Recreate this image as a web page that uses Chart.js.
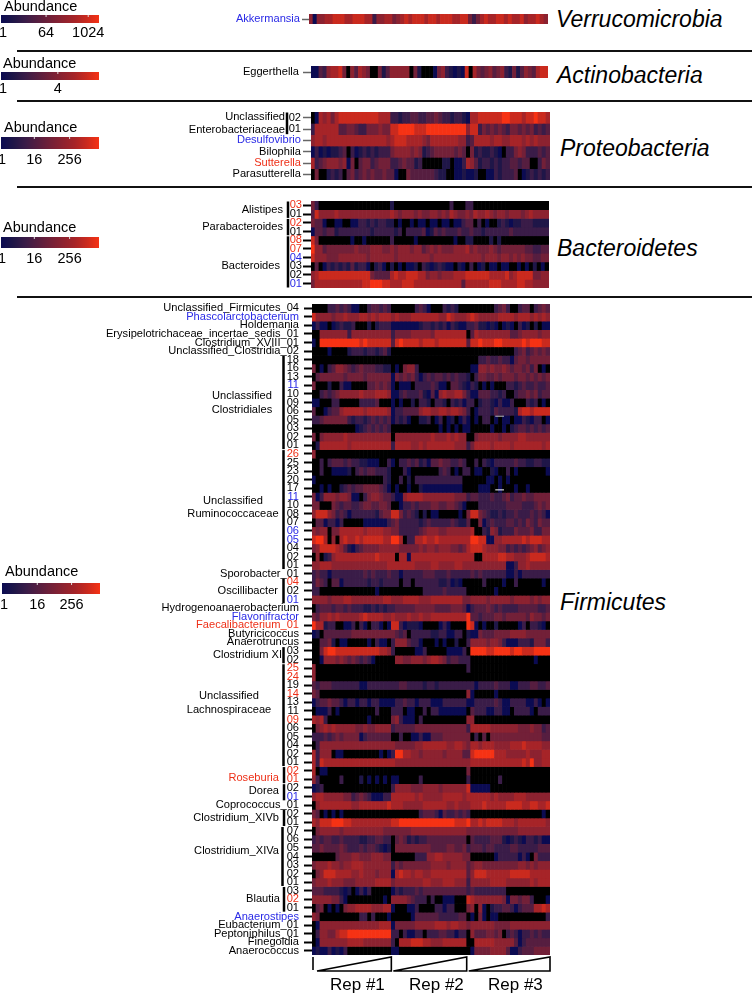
<!DOCTYPE html>
<html>
<head>
<meta charset="utf-8">
<script src="https://cdn.jsdelivr.net/npm/chart.js@4"></script>
<style>
html,body{margin:0;padding:0;background:#fff;width:752px;height:994px;overflow:hidden;font-family:"Liberation Sans",Arial,sans-serif}
canvas{position:absolute;left:0}
.t{position:absolute;white-space:nowrap;line-height:1;color:#000}
.phy{font-style:italic;font-size:23px}
.ab{font-size:14.5px}
.rep{font-size:17px}
.hr{position:absolute;left:17px;right:0;height:2px;background:#111}
</style>
</head>
<body>
<script>
// ---------- DATA: one string per taxon row, one digit per sample (0 = none, 1..9 = abundance class) ----------
const verrucoRows = [
"6166778887 7888773667 7567878887 8878887788 5357877887 8778677876"];
const verrucoLabels = ["Akkermansia"];
const verrucoBlue = [0], verrucoRed = [];

const actinoRows = [
"1143677850 6476500524 6666605200 0156321218 0754564563 2524654788"];
const actinoLabels = ["Eggerthella"];
const actinoBlue = [], actinoRed = [];

const proteoRows = [
"0176757888 8888888777 3323344334 4543323321 7788888899 8887889887",
"3777777445 5433555655 8899998889 9999999996 8835454543 5545453434",
"6776777777 7777777776 7888777765 7777777663 4777767766 7776767666",
"1312122340 3123232333 5666656523 4555554540 5232232103 3565333434",
"7345666561 5045534555 3345442300 0002201137 6423323233 4434400354",
"0500232304 5345454454 4100544444 4322001121 1200113233 3401232323"];
const proteoLabels = ["02","01","Desulfovibrio","Bilophila","Sutterella","Parasutterella"];
const proteoBlue = [2], proteoRed = [4];

const bacteroRows = [
"5300000000 0000000000 2000000000 0000030003 3000000000 0000000000",
"4866667666 6666666666 7656665655 6656576556 5766765665 6665676666",
"5441001100 1133232332 2010010110 1101101134 4030100232 1223332222",
"1443442333 3333323333 3230333341 2434333433 4332333333 4333333333",
"8500000000 1001000000 3000001000 0000001002 2000020200 0000000000",
"9664555555 5655566655 6566656645 6565556667 5655565455 5555443344",
"8666555666 6666566666 6566666666 5666666666 6665666566 5656554455",
"0401323232 4233102310 2010112032 1232110210 3012011011 0010102010",
"6788888888 8888854444 7877888775 6656667778 8888877778 6788885566",
"5777777777 7778899988 7778887777 7777777747 7777788877 7788776666"];
const bacteroLabels = ["03","01","02","01","08","07","04","03","02","01"];
const bacteroBlue = [6,9], bacteroRed = [0,2,4,5];

const firmicutesRows = [
"0000334343 1100344343 0000003431 0003232000 0000003453 0034403454",
"8666656676 6677676777 6766677777 7766876667 8766666777 7677767676",
"1311012322 3000202333 1111111233 2323132113 3422121012 1031202011",
"0066666663 6666666666 3555566666 5777777770 4766666666 4456666566",
"1099999999 9989888888 4898888788 8788888884 8898889988 8889899988",
"0000100002 3332332342 0000000000 0000000000 0000000000 0345345454",
"0000000000 0000000000 0000000000 0000000000 0033433433 1455455555",
"5010346654 3454443322 0105663000 0000000000 1166565565 4554535010",
"0455555545 5554555555 1545453134 3443434332 0355445455 5455454545",
"5000200311 0000445454 1011103333 4311044321 3201010003 3234334334",
"0034345666 6676667776 1134333421 4167667753 1144433230 0344545344",
"1100033000 0033334000 1010020332 0332032313 3023321311 3000323010",
"4001344677 7776777776 1334444677 6677677653 0133324333 3278878888",
"3345555553 2332343434 1323100223 0130120131 0103301011 0113213301",
"0000000000 0123434343 0000000000 0010101011 0000010010 2344343434",
"5056666676 6666666666 0666666666 7666767660 0566666566 6677666666",
"0277777776 7777777777 3777766767 7777776663 5777767777 6777777767",
"6000000000 0000000000 0000000000 0000000000 0000000000 0000000000",
"0030344434 3322111003 1033434231 4454433430 0303213333 3433223322",
"0030011112 0343443332 0003100000 0034301033 0110021003 0100000001",
"1000000000 0000000032 0030203333 3333333300 0000110101 0000000000",
"0010100234 3445555431 0100100211 1111111100 0011100100 0100100000",
"5136665665 1103566544 3116777766 6666665553 4433343345 3445445555",
"5500054344 3345544554 0013343444 5544554310 0033333334 4443334545",
"6888653431 3333332455 8853432020 1100000105 8854322323 3433343431",
"0441331300 0001111113 4533333234 3333343224 0051343334 4343543544",
"6566055777 7776777766 5533333456 6655666666 7003265233 3544453355",
"8997060787 7878888877 9970337787 7877777777 9988116677 7778788877",
"5688887642 1345555666 6655555656 6566655457 8887666553 4343456456",
"0602367777 7777778777 7077177777 7777777777 7007777887 7666788887",
"6677766666 6666666667 7777776666 7766667766 6666666661 1366766666",
"3433133333 3334343334 3313333344 4333433333 4343333331 1313333333",
"3543044133 3333233233 3303303333 3322312100 0003000010 0300000010",
"3300000000 0000001000 0000000033 3334333330 0000001000 0000000000",
"6666566677 6666666677 6667777666 7777777755 6666566666 5666656566",
"0344434434 3332232323 3444445555 5444455541 3444543433 3344444334",
"5466767666 6678777766 7666766766 7777777779 4434445545 5555465545",
"9772330011 3031033101 8831222100 0013100009 8101002000 0013033210",
"1204444444 5555555555 5434033333 2233113302 1154445555 6666555555",
"0044520110 0000103110 3666433100 0101002003 6666566531 1133325553",
"0058998888 8888888776 3000001130 0000111130 9999889999 8998889999",
"0016665654 5434310000 0665566656 7765344333 0000000000 0000001000",
"6000000000 0000000000 0000000000 0000000003 0000000000 0000000000",
"6000000000 0000000000 0000000000 0000000000 0000000000 0000000000",
"4344433333 3311333333 3344333323 3233333333 3133334333 1133344334",
"5400000000 0000000000 0000000000 0000000006 1000001000 0000000000",
"1344544313 3133133111 1334331333 1113333331 1333334311 3333113101",
"0111301000 0000003000 3330110030 3311111110 4333113311 0333310333",
"7673000000 0000100000 5631110300 0000000006 6000000000 0000000000",
"0567676666 6556556666 3444445555 5555555553 7777766666 6655565534",
"3334345455 5513444444 0030011311 4445555555 0304055555 5555555544",
"0366666666 6666666666 6555556677 7777667765 7767776666 7778777766",
"7366601100 0000000101 3997766566 6665666644 8999997776 6666766677",
"7387777777 7777777777 7666666666 6666666666 7777777777 7778796677",
"7011000000 0000000000 0000000000 0000000005 0000000000 0000000000",
"6300000300 0020101010 1100000300 0000000003 0000000300 0000000000",
"1230000000 0000000000 3666655566 6656666668 1111100000 0000000000",
"6776666655 3454311133 7777776766 6667777767 7777767666 6777666666",
"0677777777 6677777778 7776666677 7777667666 7778777778 8887788778",
"5401010100 0000000000 0000000344 4314334343 0000000000 0000000010",
"7688899988 7777777777 8899999999 9999998889 7787888877 7677777776",
"0566666566 6666666655 5555566666 6666666665 5555555555 5566666666",
"3434433433 3322334433 0454232334 4444444440 4333344421 2321332311",
"4454444543 3343443212 0555555555 4444554453 4443443333 4433333444",
"0000004555 6655566655 0000003336 6776666655 0000001333 3313105333",
"5666766566 7776666666 3545555555 6666566664 5665555555 5566565666",
"0568887777 6676665666 1787767766 7777777774 6888777777 8888877777",
"5666766655 5666667777 5666666677 6667776663 6666677776 6666676777",
"4443333212 0131300000 1323334344 4444444443 4333333330 0000000000",
"6666655310 0000000010 6666543330 3001110008 7666666651 5545530001",
"0450101056 6777766677 1000113000 0331330005 6061023344 3134447787",
"6500000000 0033030001 0000014444 4433333440 1051011000 0000000003",
"0166666666 6666666777 1555556666 6777677665 6666665555 6666666666",
"0366557889 9999999999 3303113303 3344331330 6444554503 4313343433",
"0166666667 7776666666 3077788877 6667777770 0777776666 6413444444",
"1211312130 0000000000 1100000000 0000000000 1555566664 1134445555"];
const firmicutesLabels = ["Unclassified_Firmicutes_04","Phascolarctobacterium","Holdemania","Erysipelotrichaceae_incertae_sedis_01","Clostridium_XVIII_01","Unclassified_Clostridia_02",
"18","16","13","11","10","09","06","05","03","02","01",
"26","25","23","20","17","11","10","08","07","06","05","04","02","01",
"Sporobacter_01","04","02","01","Hydrogenoanaerobacterium","Flavonifractor","Faecalibacterium_01","Butyricicoccus","Anaerotruncus","03","02",
"25","24","19","14","13","11","09","06","05","04","02","01",
"02","01","02","01","Coprococcus_01","02","01","07","06","05","04","03","02","01","03","02","01",
"Anaerostipes","Eubacterium_01","Peptoniphilus_01","Finegoldia","Anaerococcus"];
const firmicutesBlue = [1,9,22,26,27,34,36,57,71];
const firmicutesRed = [17,32,37,42,43,45,48,54,55,69];

const repEdges = [0,20,39,60];
const repNames = ["Rep #1","Rep #2","Rep #3"];

// ---------- STYLE ----------
const PALETTE = ["#000000","#0b0b52","#1f1648","#3a1c48","#561e40","#722038","#8c2230","#a62428","#ca2a1e","#f63214"];
const BLUE="#2a2ae6", RED="#ee3018", FONT='"Liberation Sans",Arial,sans-serif';

const proteoGroups = [{lines:["Unclassified","Enterobacteriaceae"],first:0,last:1,x:285,at:1.05,align:"right",bx:287,gap:13}];
const bacteroGroups = [
 {lines:["Alistipes"],first:0,last:1,x:283,at:1,align:"right",bx:288},
 {lines:["Parabacteroides"],first:2,last:3,x:283,at:3,align:"right",bx:288},
 {lines:["Bacteroides"],first:4,last:9,x:280,at:7.5,align:"right",bx:288}];
const firmicutesGroups = [
 {lines:["Unclassified","Clostridiales"],first:6,last:16,x:242,at:11.55,align:"center",bx:283.5,gap:14},
 {lines:["Unclassified","Ruminococcaceae"],first:17,last:30,x:233,at:23.75,align:"center",bx:283.5,gap:13.5},
 {lines:["Oscillibacter"],first:32,last:34,x:278,at:33.5,align:"right",bx:283.5},
 {lines:["Clostridium XI"],first:40,last:41,x:282,at:41,align:"right",bx:283.5},
 {lines:["Unclassified","Lachnospiraceae"],first:42,last:53,x:229,at:46.6,align:"center",bx:283.5,gap:14},
 {lines:["Roseburia"],first:54,last:55,x:279,at:55.3,align:"right",bx:284,color:RED},
 {lines:["Dorea"],first:56,last:57,x:279,at:56.9,align:"right",bx:284},
 {lines:["Clostridium_XIVb"],first:59,last:60,x:279,at:60,align:"right",bx:284},
 {lines:["Clostridium_XIVa"],first:61,last:67,x:279,at:63.9,align:"right",bx:282.5},
 {lines:["Blautia"],first:68,last:70,x:280,at:69.4,align:"right",bx:284}];

function heat(o){
  const rows=o.rows.map(r=>r.replace(/ /g,""));
  const n=rows.length, nCols=rows[0].length;
  const cols=Array.from({length:nCols},(_,i)=>i);
  const padT=o.padTop||10, padB=o.padBottom||10;
  const c=document.createElement("canvas");
  c.style.top=(o.top-padT)+"px";
  c.width=o.canvasW||555; c.height=o.bottom-o.top+padT+padB;
  document.body.appendChild(c);
  const deco={id:"deco",afterDatasetsDraw(ch){
    const g=ch.ctx, y=ch.scales.y, x=ch.scales.x;
    g.save(); g.textBaseline="middle"; g.fillStyle="#000"; g.font="11.1px "+FONT;
    (o.groups||[]).forEach(G=>{
      g.fillStyle="#000";
      g.fillRect(G.bx-1.25,y.getPixelForValue(G.first)+0.5,2.5,y.getPixelForValue(G.last+1)-y.getPixelForValue(G.first)-1);
      g.fillStyle=G.color||"#000"; g.textAlign=G.align;
      const py=y.getPixelForValue(G.at), gap=G.gap||0;
      G.lines.forEach((t,i)=>g.fillText(t,G.x,py+(i-(G.lines.length-1)/2)*gap));
    });
    (o.marks||[]).forEach(m=>{
      const cw=(x.right-x.left)/nCols;
      g.fillStyle=m.color;
      g.fillRect(x.left+m.col*cw,y.getPixelForValue(m.row)-0.5,cw*2.2,1);
    });
    if(o.reps){
      const cw=(x.right-x.left)/nCols, top=y.bottom+2, bot=y.bottom+16;
      g.strokeStyle="#000"; g.lineWidth=1.6; g.lineJoin="miter";
      o.reps.forEach((e,i)=>{
        if(i===o.reps.length-1) return;
        const a=x.left+e*cw+(i===0?5:2), b=x.left+o.reps[i+1]*cw;
        g.beginPath(); g.moveTo(a,bot); g.lineTo(b,top); g.lineTo(b,bot); g.closePath(); g.stroke();
      });
      g.beginPath(); g.moveTo(x.left+1,top); g.lineTo(x.left+1,bot-1); g.stroke();
    }
    g.restore();
  }};
  new Chart(c,{
    type:"bar",
    data:{labels:cols,datasets:rows.map((r,i)=>({
      data:cols.map(()=>[i,i+1]),
      backgroundColor:cols.map(k=>PALETTE[+r[k]]),
      grouped:false,barPercentage:1,categoryPercentage:1,borderWidth:0
    }))},
    plugins:[deco],
    options:{
      responsive:false,animation:false,devicePixelRatio:1,
      layout:{padding:{top:padT,bottom:padB,left:0,right:(c.width-o.right)}},
      plugins:{legend:{display:false},tooltip:{enabled:false},title:{display:false}},
      scales:{
        x:{display:false,offset:true,grid:{display:false}},
        y:{
          type:"linear",reverse:true,min:0,max:n,
          border:{display:false},
          grid:{drawOnChartArea:false,drawTicks:true,tickLength:o.tickLen||8,tickColor:o.tickColor||"#000",tickWidth:o.tickWidth||2},
          afterBuildTicks(s){s.ticks=o.labels.map((_,i)=>({value:i+0.5}));},
          afterFit(s){s.width=o.left;s.paddingTop=0;s.paddingBottom=0;},
          ticks:{
            autoSkip:false,padding:o.tickPad,font:{family:FONT,size:11.1},
            callback:(v,i)=>o.labels[i],
            color:ctx=>o.blue.includes(ctx.index)?BLUE:o.red.includes(ctx.index)?RED:"#000"
          }
        }
      }
    }
  });
}

function colorbar(o){
  const c=document.createElement("canvas");
  c.style.top=o.top+"px"; c.style.left=(o.left||0)+"px"; c.width=112; c.height=o.h+24;
  document.body.appendChild(c);
  const ticksMark={id:"marks",afterDatasetsDraw(ch){
    const g=ch.ctx,x=ch.scales.x,a=ch.chartArea; g.save(); g.fillStyle="#ddd";
    o.pos.slice(1).forEach(p=>g.fillRect(x.getPixelForValue(p)-0.5,a.top,1,2));
    g.restore();
  }};
  new Chart(c,{
    type:"bar",
    data:{labels:["Abundance"],datasets:[{
      data:[[0,100]],barPercentage:1,categoryPercentage:1,borderWidth:0,
      backgroundColor(ctx){
        const a=ctx.chart.chartArea; if(!a) return "#000";
        const gr=ctx.chart.ctx.createLinearGradient(a.left,0,a.right,0);
        PALETTE.slice(1).forEach((p,i)=>gr.addColorStop(i/8,p));
        return gr;
      }
    }]},
    plugins:[ticksMark],
    options:{
      indexAxis:"y",responsive:false,animation:false,devicePixelRatio:1,
      layout:{padding:{left:1,right:13,top:0,bottom:0}},
      plugins:{legend:{display:false},tooltip:{enabled:false}},
      scales:{
        y:{display:false,offset:true,grid:{display:false}},
        x:{type:"linear",min:0,max:100,border:{display:false},grid:{display:false,drawTicks:false},
          afterBuildTicks(s){s.ticks=o.pos.map(v=>({value:v}));},
          afterFit(s){s.paddingLeft=0;s.paddingRight=0;s.height=24;},
          ticks:{autoSkip:false,maxRotation:0,padding:o.pad,color:"#000",font:{family:FONT,size:14.5},callback:(v,i)=>o.labels[i]}
        }
      }
    }
  });
}

function text(cls,str,x,y){
  const d=document.createElement("div"); d.className="t "+cls; d.textContent=str;
  d.style.left=x+"px"; d.style.top=y+"px"; document.body.appendChild(d);
}

heat({rows:verrucoRows,labels:verrucoLabels,blue:verrucoBlue,red:verrucoRed,top:14,bottom:24.5,left:309,right:548,tickPad:2,tickLen:7,tickColor:"#666",tickWidth:1.5});
heat({rows:actinoRows,labels:actinoLabels,blue:actinoBlue,red:actinoRed,top:66,bottom:78,left:311,right:548,tickPad:4,tickColor:"#666",tickWidth:1.5});
heat({rows:proteoRows,labels:proteoLabels,blue:proteoBlue,red:proteoRed,groups:proteoGroups,top:112,bottom:180,left:311,right:550,tickPad:2,tickColor:"#666",tickWidth:1.5});
heat({rows:bacteroRows,labels:bacteroLabels,blue:bacteroBlue,red:bacteroRed,groups:bacteroGroups,top:201,bottom:288,left:311,right:549,tickPad:1});
heat({rows:firmicutesRows,labels:firmicutesLabels,blue:firmicutesBlue,red:firmicutesRed,groups:firmicutesGroups,top:304,bottom:955,left:312,right:550,tickPad:5,padBottom:22,
  reps:repEdges,marks:[{row:13.1,col:46.2,color:"#bbb"},{row:21.7,col:46.2,color:"#fff"}]});

colorbar({top:15,h:8.5,pad:1,pos:[2,46,89],labels:["1","64","1024"]});
colorbar({top:72,h:8.5,pad:0,pos:[2,58],labels:["1","4"]});
colorbar({top:137,h:12,pad:2,pos:[1,34,70],labels:["1","16","256"]});
colorbar({top:237,h:11,pad:2,pos:[1,34,70],labels:["1","16","256"]});
colorbar({top:583,h:11,pad:2,left:1,pos:[2,36,71],labels:["1","16","256"]});

[[4,-1],[3,56],[4,120],[3,220],[5,564]].forEach(p=>text("ab","Abundance",p[0],p[1]));
text("phy","Verrucomicrobia",556,8);
text("phy","Actinobacteria",557,64);
text("phy","Proteobacteria",560,137);
text("phy","Bacteroidetes",557,237);
text("phy","Firmicutes",560,591);
text("rep",repNames[0],330,976);
text("rep",repNames[1],409,976);
text("rep",repNames[2],488,976);
[50,100,186,296].forEach(y=>{const d=document.createElement("div");d.className="hr";d.style.top=y+"px";document.body.appendChild(d);});
</script>
</body>
</html>
